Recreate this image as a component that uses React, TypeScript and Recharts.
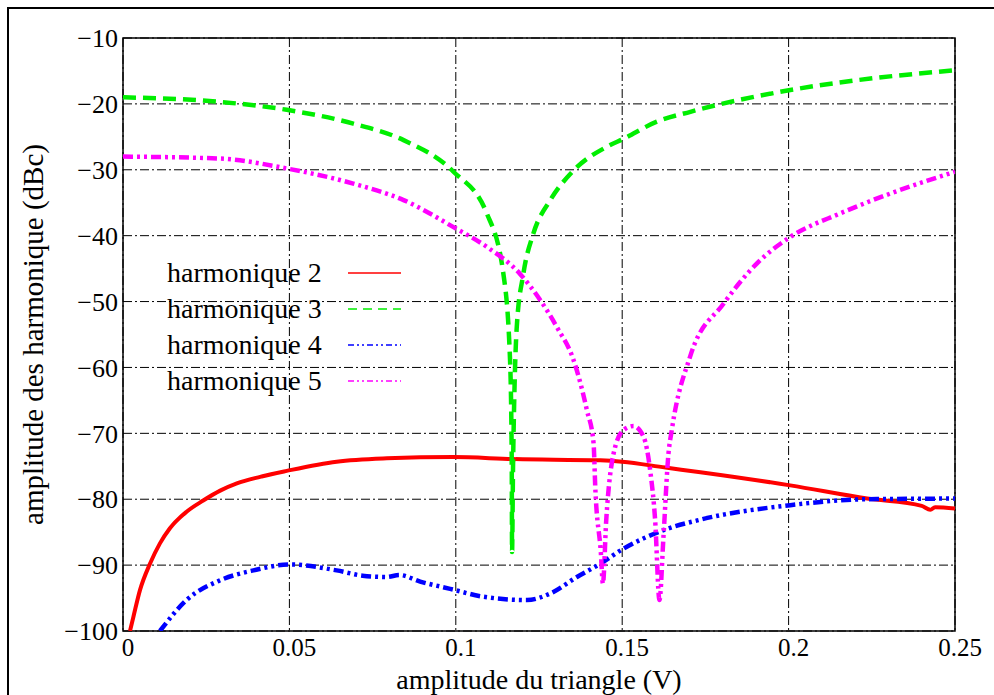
import React from 'react';
import { LineChart, Line, XAxis, YAxis, CartesianGrid, ReferenceArea, Legend } from 'recharts';

// amplitude du triangle (V) -> amplitude (dBc)
const h2X = [0.0021, 0.0031, 0.0051, 0.0081, 0.0111, 0.0141, 0.0191, 0.0241, 0.0292, 0.0342, 0.0412, 0.0492, 0.0642, 0.0793, 0.0993, 0.117, 0.1434, 0.15, 0.163, 0.1735, 0.2005, 0.2236, 0.24, 0.2426, 0.244, 0.25];
const h2Y = [-100, -97.9, -93.8, -89.8, -86.7, -84.4, -81.9, -80.2, -78.7, -77.6, -76.6, -75.7, -74.3, -73.8, -73.6, -73.9, -74.1, -74.3, -75.2, -75.9, -77.9, -79.9, -81.0, -81.6, -81.2, -81.4];

const h3X = [0, 0.0292, 0.0492, 0.0692, 0.0843, 0.0993, 0.1093, 0.1143, 0.1163, 0.1168, 0.1169, 0.1172, 0.1176, 0.1183, 0.1203, 0.1233, 0.1284, 0.1354, 0.1454, 0.1504, 0.1604, 0.1705, 0.2005, 0.2206, 0.25];
const h3Y = [-19.0, -19.7, -20.9, -23.0, -25.5, -30.3, -36.6, -45.8, -58.9, -73.6, -88.0, -75.0, -64.0, -54.0, -45.8, -39.7, -34.6, -30.1, -26.5, -25.3, -22.7, -21.2, -17.9, -16.4, -14.9];

const h4X = [0.0111, 0.0191, 0.0292, 0.0392, 0.0502, 0.0642, 0.072, 0.0793, 0.083, 0.0893, 0.0983, 0.1083, 0.1214, 0.1284, 0.1364, 0.1434, 0.1504, 0.1624, 0.1735, 0.2005, 0.2236, 0.25];
const h4Y = [-100, -95.3, -92.3, -90.8, -89.9, -90.8, -91.6, -91.8, -91.5, -92.5, -93.6, -94.8, -95.3, -94.3, -91.8, -89.8, -87.5, -84.7, -83.1, -80.9, -80.0, -79.9];

const h5X = [0, 0.0292, 0.0492, 0.0692, 0.0843, 0.0993, 0.1093, 0.1193, 0.1254, 0.1304, 0.1354, 0.1394, 0.1414, 0.1419, 0.1436, 0.1442, 0.1452, 0.1474, 0.1504, 0.1534, 0.1564, 0.1584, 0.1599, 0.1612, 0.1624, 0.1639, 0.1649, 0.1705, 0.1805, 0.1905, 0.2005, 0.2156, 0.2306, 0.25];
const h5Y = [-28.0, -28.3, -29.8, -32.1, -34.6, -38.7, -41.7, -45.8, -49.8, -53.9, -58.9, -66.5, -71.5, -78.1, -88.2, -92.8, -83.2, -73.1, -69.5, -68.9, -70.5, -75.6, -83.2, -95.3, -85.7, -73.1, -69.5, -58.2, -50.3, -44.2, -40.2, -36.6, -33.6, -30.3];

const xTicks = [0, 0.05, 0.1, 0.15, 0.2, 0.25];
const yTicks = [-100, -90, -80, -70, -60, -50, -40, -30, -20, -10];

const seriesNames = ['harmonique 2', 'harmonique 3', 'harmonique 4', 'harmonique 5'];
const COLORS = ['#ff0000', '#00ee00', '#0000ff', '#ff00ff'];
const DASHES = ['', '13 7', '10 4 3 4 3 4', '10 4 3 4 3 4'];
const LEGEND_DASHES = ['', '9 6', '6 3 2 3 2 3', '6 3 2 3 2 3'];

const toPoints = (xs: number[], ys: number[]) => xs.map((x, i) => ({ x, y: ys[i] }));
const series = [toPoints(h2X, h2Y), toPoints(h3X, h3Y), toPoints(h4X, h4Y), toPoints(h5X, h5Y)];

const FONT = '"Liberation Serif", "DejaVu Serif", serif';

const fmtY = (v: number) => (v < 0 ? '\u2212' + Math.abs(v) : String(v));

const renderLegend = () => (
  <div style={{ fontFamily: FONT, fontSize: 28, color: '#000' }}>
    {seriesNames.map((name, i) => (
      <div key={name} style={{ display: 'flex', alignItems: 'center', height: 36 }}>
        <span style={{ width: 181, whiteSpace: 'nowrap' }}>{name}</span>
        <svg width={54} height={6}>
          <line x1={0} y1={3} x2={53} y2={3} stroke={COLORS[i]} strokeWidth={1.5} strokeDasharray={LEGEND_DASHES[i] || undefined} />
        </svg>
      </div>
    ))}
  </div>
);

export default function App() {
  return (
    <div
      style={{
        position: 'fixed',
        left: 7,
        top: 7,
        width: 987,
        height: 688,
        borderTop: '2px solid #000',
        borderLeft: '2px solid #000',
        background: '#fff',
      }}
    >
      <LineChart width={985} height={686} margin={{ top: 29, right: 39, left: 0, bottom: 0 }} style={{ fontFamily: FONT }}>
        <CartesianGrid stroke="#000" strokeWidth={1} strokeDasharray="9 3 2 3" />
        <XAxis
          dataKey="x"
          type="number"
          domain={[0, 0.25]}
          ticks={xTicks}
          allowDataOverflow
          axisLine={false}
          tickLine={false}
          tickSize={0}
          tickMargin={7}
          height={64}
          tick={{ fill: '#000', fontSize: 25, dx: 5 }}
          tickFormatter={(v: number) => String(v)}
          label={{ value: 'amplitude du triangle (V)', position: 'insideBottom', offset: 6, fill: '#000', fontSize: 28 }}
        />
        <YAxis
          type="number"
          domain={[-100, -10]}
          ticks={yTicks}
          allowDataOverflow
          axisLine={false}
          tickLine={false}
          tickSize={0}
          tickMargin={5}
          width={114}
          tick={{ fill: '#000', fontSize: 26 }}
          tickFormatter={fmtY}
          label={{
            content: ({ viewBox }: any) => {
              const cx = viewBox.x + 24;
              const cy = viewBox.y + viewBox.height / 2;
              return (
                <text x={cx} y={cy} transform={`rotate(-90 ${cx} ${cy})`} textAnchor="middle" dominantBaseline="central" fontSize={29} fill="#000">
                  amplitude des harmonique (dBc)
                </text>
              );
            },
          }}
        />
        <Legend
          layout="vertical"
          align="center"
          verticalAlign="middle"
          wrapperStyle={{ left: 158, top: 246, width: 260 }}
          content={renderLegend}
        />
        {series.map((data, i) => (
          <Line
            key={seriesNames[i]}
            data={data}
            dataKey="y"
            name={seriesNames[i]}
            type="monotone"
            stroke={COLORS[i]}
            strokeWidth={i === 0 ? 4 : 4.5}
            strokeDasharray={DASHES[i] || undefined}
            dot={false}
            activeDot={false}
            isAnimationActive={false}
          />
        ))}
        <ReferenceArea x1={0} x2={0.25} y1={-100} y2={-10} fill="none" stroke="#000" strokeWidth={1.5} />
      </LineChart>
    </div>
  );
}
